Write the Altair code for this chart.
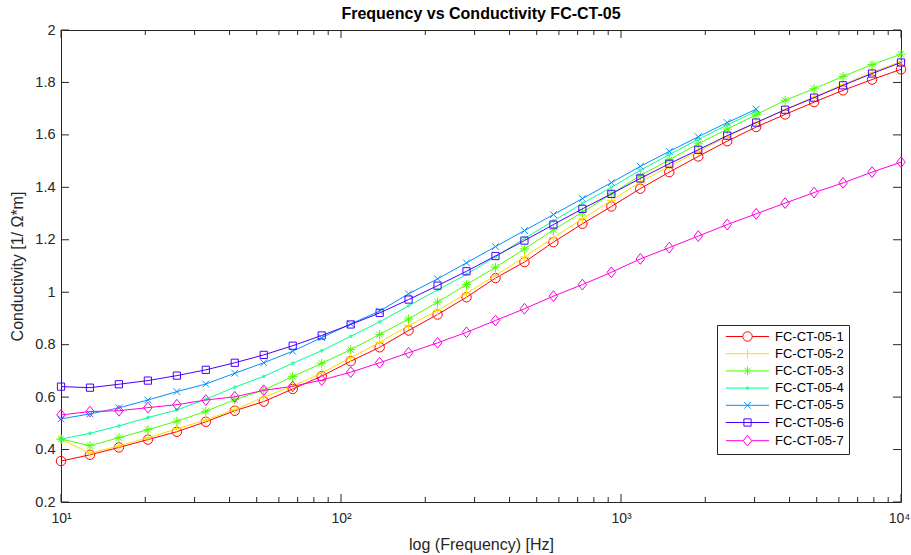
import altair as alt
import pandas as pd

FONT = "Liberation Sans"

# frequencies (Hz), 30 log-spaced measurement points
freq = [10.0, 12.69, 16.10, 20.43, 25.93, 32.90, 41.75, 52.98, 67.23, 85.32,
        108.3, 137.4, 174.3, 221.2, 280.7, 356.2, 452.0, 573.6, 727.9, 923.7,
        1172.1, 1487.4, 1887.4, 2395.0, 3039.2, 3856.6, 4893.9, 6210.2, 7880.5, 10000.0]

names = ["FC-CT-05-1", "FC-CT-05-2", "FC-CT-05-3", "FC-CT-05-4",
         "FC-CT-05-5", "FC-CT-05-6", "FC-CT-05-7"]

s1 = [0.356, 0.380, 0.408, 0.438, 0.468, 0.506, 0.548, 0.583, 0.631, 0.680,
      0.737, 0.790, 0.854, 0.915, 0.981, 1.054, 1.115, 1.191, 1.261, 1.327,
      1.395, 1.458, 1.518, 1.576, 1.630, 1.678, 1.725, 1.770, 1.811, 1.850]
s2 = [0.440, 0.386, 0.414, 0.445, 0.479, 0.513, 0.552, 0.600, 0.642, 0.692,
      0.750, 0.809, 0.873, 0.930, 0.996, 1.064, 1.134, 1.208, 1.280, 1.350,
      1.420, 1.480, 1.537, 1.593, 1.646, 1.697, 1.745, 1.792, 1.838, 1.880]
s3 = [0.440, 0.415, 0.445, 0.476, 0.508, 0.546, 0.590, 0.627, 0.678, 0.729,
      0.781, 0.839, 0.898, 0.962, 1.029, 1.095, 1.165, 1.238, 1.305, 1.375,
      1.445, 1.505, 1.566, 1.622, 1.677, 1.732, 1.776, 1.823, 1.868, 1.908]
s4 = [0.440, 0.462, 0.490, 0.522, 0.551, 0.592, 0.638, 0.679, 0.729, 0.777,
      0.832, 0.887, 0.948, 1.009, 1.068, 1.135, 1.205, 1.272, 1.338, 1.400,
      1.465, 1.525, 1.583, 1.638, 1.690]
s5 = [0.517, 0.536, 0.559, 0.589, 0.621, 0.650, 0.691, 0.731, 0.775, 0.827,
      0.879, 0.928, 0.994, 1.051, 1.112, 1.174, 1.235, 1.296, 1.357, 1.418,
      1.480, 1.537, 1.593, 1.647, 1.698]
s6 = [0.640, 0.636, 0.649, 0.663, 0.682, 0.704, 0.731, 0.761, 0.796, 0.835,
      0.877, 0.921, 0.972, 1.025, 1.080, 1.138, 1.197, 1.258, 1.318, 1.375,
      1.434, 1.490, 1.543, 1.597, 1.647, 1.696, 1.742, 1.789, 1.834, 1.876]
s7 = [0.532, 0.545, 0.548, 0.560, 0.571, 0.589, 0.601, 0.626, 0.641, 0.665,
      0.695, 0.731, 0.769, 0.807, 0.847, 0.892, 0.937, 0.985, 1.029, 1.076,
      1.127, 1.170, 1.214, 1.258, 1.299, 1.340, 1.380, 1.417, 1.458, 1.496]
series_values = [s1, s2, s3, s4, s5, s6, s7]

colors = ["#FF0000", "#FFDB00", "#49FF00", "#00FF92", "#0092FF", "#4900FF", "#FF00DB"]

# marker shapes (o, +, *, ., x, square, diamond)
marker_paths = [
    "M1.05,0A1.05,1.05,0,1,1,-1.05,0A1.05,1.05,0,1,1,1.05,0Z",
    "M-1,0L1,0M0,-1L0,1",
    "M-1,0L1,0M0,-1L0,1M-0.7,-0.7L0.7,0.7M-0.7,0.7L0.7,-0.7",
    "M0.3,0A0.3,0.3,0,1,1,-0.3,0A0.3,0.3,0,1,1,0.3,0Z",
    "M-0.75,-0.75L0.75,0.75M-0.75,0.75L0.75,-0.75",
    "M-0.8,-0.8L0.8,-0.8L0.8,0.8L-0.8,0.8Z",
    "M0,-1.2L0.95,0L0,1.2L-0.95,0Z",
]
legend_paths = [
    "M-4.8,0L-1.05,0M1.05,0L4.8,0M1.05,0A1.05,1.05,0,1,1,-1.05,0A1.05,1.05,0,1,1,1.05,0Z",
    "M-4.8,0L4.8,0M0,-1L0,1",
    "M-4.8,0L4.8,0M0,-1L0,1M-0.7,-0.7L0.7,0.7M-0.7,0.7L0.7,-0.7",
    "M-4.8,0L4.8,0M0.3,0A0.3,0.3,0,1,1,-0.3,0A0.3,0.3,0,1,1,0.3,0Z",
    "M-4.8,0L4.8,0M-0.75,-0.75L0.75,0.75M-0.75,0.75L0.75,-0.75",
    "M-4.8,0L4.8,0M-0.8,-0.8L0.8,-0.8L0.8,0.8L-0.8,0.8Z",
    "M-4.8,0L-0.95,0M0.95,0L4.8,0M0,-1.2L0.95,0L0,1.2L-0.95,0Z",
]

x_major = [10, 100, 1000, 10000]
x_minor = [20, 30, 40, 50, 60, 70, 80, 90, 200, 300, 400, 500, 600, 700, 800, 900,
           2000, 3000, 4000, 5000, 6000, 7000, 8000, 9000]
y_ticks = [0.2, 0.4, 0.6, 0.8, 1.0, 1.2, 1.4, 1.6, 1.8, 2.0]

rows = []
for name, vals in zip(names, series_values):
    for f, v in zip(freq, vals):
        rows.append({"series": name, "freq": f, "val": v})
df = pd.DataFrame(rows)

W, H = 840, 472
AX = "#262626"

xscale = alt.Scale(type="log", domain=[10, 10000], nice=False)
yscale = alt.Scale(domain=[0.2, 2.0], nice=False, zero=False)

x_axis = alt.Axis(
    values=x_major,
    labelExpr="datum.value == 10 ? '10¹' : datum.value == 100 ? '10²' : datum.value == 1000 ? '10³' : '10⁴'",
    labelOffset={"condition": {"test": "datum.value == 10000", "value": -2}, "value": 0},
    title="log (Frequency) [Hz]", ticks=False, tickSize=0, domain=False, grid=False,
    labelFlush=False, labelPadding=9, titlePadding=11, labelFontSize=14, titleFontSize=16,
    labelFont=FONT, titleFont=FONT, labelColor=AX, titleColor=AX, titleFontWeight="normal",
)
y_axis = alt.Axis(
    values=y_ticks, format="~g", title="Conductivity [1/ Ω*m]",
    ticks=False, tickSize=0, domain=False, grid=False, labelFlush=False,
    labelPadding=6, titlePadding=9, labelFontSize=14.5, titleFontSize=16,
    labelFont=FONT, titleFont=FONT, labelColor=AX, titleColor=AX, titleFontWeight="normal",
)

X = alt.X("freq:Q", scale=xscale, axis=x_axis)
Y = alt.Y("val:Q", scale=yscale, axis=y_axis)

layers = []
for name, col, shp in zip(names, colors, marker_paths):
    d = df[df["series"] == name]
    base = alt.Chart(d)
    layers.append(base.mark_line(color=col, strokeWidth=1).encode(x=X, y=Y))
    layers.append(base.mark_point(shape=shp, size=81, filled=False, color=col,
                                  strokeWidth=1, opacity=1).encode(x=X, y=Y))

# tick marks (inward, MATLAB style)
xmaj = pd.DataFrame({"v": x_major})
xmin = pd.DataFrame({"v": x_minor})
yt = pd.DataFrame({"v": y_ticks})
XT = alt.X("v:Q", scale=xscale, axis=x_axis)
YT = alt.Y("v:Q", scale=yscale, axis=y_axis)
rule = dict(color=AX, strokeWidth=1)
layers += [
    alt.Chart(xmaj).mark_rule(**rule).encode(x=XT, y=alt.value(H), y2=alt.value(H - 8)),
    alt.Chart(xmaj).mark_rule(**rule).encode(x=XT, y=alt.value(0), y2=alt.value(8)),
    alt.Chart(xmin).mark_rule(**rule).encode(x=XT, y=alt.value(H), y2=alt.value(H - 5)),
    alt.Chart(xmin).mark_rule(**rule).encode(x=XT, y=alt.value(0), y2=alt.value(5)),
    alt.Chart(yt).mark_rule(**rule).encode(y=YT, x=alt.value(0), x2=alt.value(8)),
    alt.Chart(yt).mark_rule(**rule).encode(y=YT, x=alt.value(W), x2=alt.value(W - 8)),
]

LEG = alt.Legend(
    title=None, orient="none", legendX=656, legendY=295,
    strokeColor=AX, fillColor="white", padding=5, cornerRadius=0,
    symbolSize=81, symbolStrokeWidth=1, symbolOffset=19, labelOffset=21,
    labelFont=FONT, labelFontSize=13, labelColor="black", rowPadding=3.2,
)
legend_layer = alt.Chart(df).mark_point(filled=False, opacity=1, strokeWidth=1, size=81).encode(
    x=X, y=Y,
    color=alt.Color("series:N", scale=alt.Scale(domain=names, range=colors), legend=LEG),
    shape=alt.Shape("series:N", scale=alt.Scale(domain=names, range=legend_paths), legend=LEG),
).transform_filter("false")
layers.append(legend_layer)

chart = alt.layer(*layers).properties(
    width=W, height=H,
    title=alt.TitleParams("Frequency vs Conductivity FC-CT-05", font=FONT, fontSize=16,
                          fontWeight="bold", color="black", anchor="middle",
                          frame="group", offset=0),
    padding={"left": 61, "top": 30, "right": 10, "bottom": 53},
    autosize=alt.AutoSizeParams(type="none"),
    background="white",
).configure_view(stroke=AX, strokeWidth=1)

chart.save("out.html", embed_options={"renderer": "svg", "actions": False})
